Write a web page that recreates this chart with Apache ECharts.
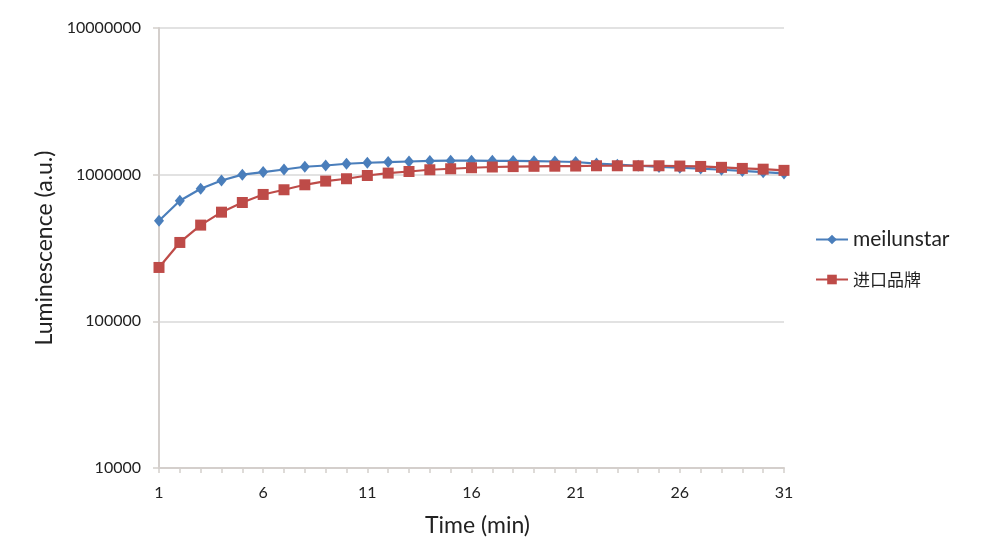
<!DOCTYPE html>
<html>
<head>
<meta charset="utf-8">
<script src="https://cdn.jsdelivr.net/npm/echarts@6/dist/echarts.min.js"></script>
<style>
html,body{margin:0;padding:0;background:#fff;}
#chart{width:987px;height:544px;}
</style>
</head>
<body>
<div id="chart"></div>
<script>
const times = ['1','2','3','4','5','6','7','8','9','10','11','12','13','14','15','16','17','18','19','20','21','22','23','24','25','26','27','28','29','30','31'];
const meilunstar = [485000, 664000, 801000, 913000, 1000000, 1042000, 1085000, 1132000, 1155000, 1187000, 1206000, 1219000, 1230000, 1240000, 1245000, 1245000, 1242000, 1240000, 1235000, 1230000, 1220000, 1190000, 1170000, 1150000, 1130000, 1115000, 1100000, 1080000, 1060000, 1040000, 1020000];
const imported = [233000, 345000, 453000, 555000, 646000, 733000, 789000, 853000, 904000, 938000, 987000, 1025000, 1051000, 1080000, 1097000, 1115000, 1128000, 1135000, 1140000, 1142000, 1145000, 1150000, 1150000, 1150000, 1150000, 1145000, 1138000, 1122000, 1103000, 1090000, 1070000];
const seriesNames = ['meilunstar', '进口品牌'];

const chart = echarts.init(document.getElementById('chart'));
const font = 'Lato, "Noto Sans CJK SC", sans-serif';
chart.setOption({
  animation: false,
  backgroundColor: '#fff',
  grid: {left: 159, right: 203, top: 28, bottom: 76},
  legend: {
    orient: 'vertical',
    left: 810,
    top: 224,
    itemWidth: 32,
    itemHeight: 12,
    itemGap: 21,
    formatter: function (name) {
      return /[\u4e00-\u9fff]/.test(name) ? '{cn|' + name + '}' : name;
    },
    textStyle: {
      fontFamily: font, fontSize: 21, color: '#222',
      rich: {cn: {fontFamily: '"Noto Sans CJK SC", sans-serif', fontSize: 17, color: '#222'}}
    },
    data: seriesNames
  },
  xAxis: {
    type: 'category',
    data: times,
    boundaryGap: false,
    name: 'Time (min)',
    nameLocation: 'middle',
    nameGap: 46,
    nameTextStyle: {fontFamily: font, fontSize: 23, color: '#222', padding: [0, 0, 0, 12]},
    axisLine: {lineStyle: {color: '#d4cfcc', width: 2}},
    axisTick: {show: true, interval: 0, length: 5, lineStyle: {color: '#d4cfcc', width: 1.5}},
    axisLabel: {interval: 4, margin: 17, fontFamily: font, fontSize: 16, color: '#222'},
    splitLine: {show: false}
  },
  yAxis: {
    type: 'log',
    logBase: 10,
    min: 10000,
    max: 10000000,
    name: 'Luminescence (a.u.)',
    nameLocation: 'middle',
    nameGap: 103,
    nameTextStyle: {fontFamily: font, fontSize: 23, color: '#222'},
    axisLine: {show: true, lineStyle: {color: '#d4cfcc', width: 2}},
    axisTick: {show: true, inside: false, length: 6, lineStyle: {color: '#d4cfcc', width: 1.5}},
    axisLabel: {margin: 18, fontFamily: font, fontSize: 16, color: '#222', formatter: function (v) { return String(Math.round(v)); }},
    splitLine: {show: true, lineStyle: {color: '#d8d8d8', width: 1.5}}
  },
  series: [
    {
      name: seriesNames[0],
      type: 'line',
      data: meilunstar,
      symbol: 'diamond',
      symbolSize: [10, 12],
      itemStyle: {color: '#4a7ebb'},
      lineStyle: {color: '#4a7ebb', width: 2.2},
      z: 2
    },
    {
      name: seriesNames[1],
      type: 'line',
      data: imported,
      symbol: 'rect',
      symbolSize: 11,
      itemStyle: {color: '#be4b48'},
      lineStyle: {color: '#be4b48', width: 2.2},
      z: 3
    }
  ]
});
</script>
</body>
</html>
